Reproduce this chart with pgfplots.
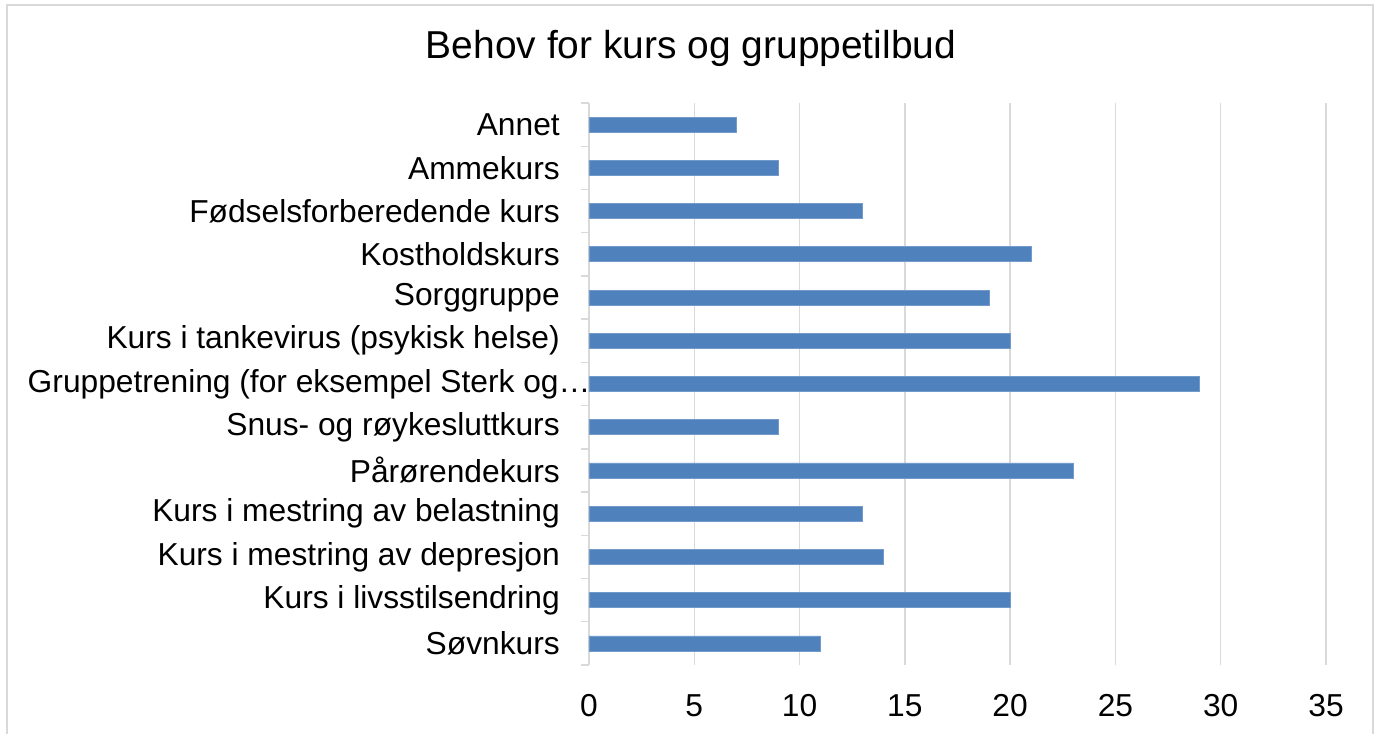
\documentclass[border=0pt]{standalone}
\usepackage{pgfplots}
\pgfplotsset{compat=1.18}
\usepackage{fontspec}
\setmainfont{Liberation Sans}
\definecolor{barblue}{HTML}{4F81BD}
\definecolor{gridgray}{HTML}{D9D9D9}
\begin{document}
\begin{tikzpicture}
\path[use as bounding box] (0pt,0pt) rectangle (1034.25pt,549.75pt);
\draw[gridgray, line width=1.2pt] (5.25pt,-5pt) -- (5.25pt,546pt) -- (1029.75pt,546pt) -- (1029.75pt,-5pt);
\node[font=\fontsize{29.2}{34}\selectfont] at (518.25pt,513.75pt) {Behov for kurs og gruppetilbud};
\begin{axis}[
  at={(441.75pt,51pt)}, anchor=south west, scale only axis,
  width=552.75pt, height=421.5pt,
  xbar, bar width=11.25pt,
  xmin=0, xmax=35, ymin=-0.5, ymax=12.5,
  xtick={0,5,...,35},
  ytick={0,...,12},
  minor ytick={-0.5,0.5,...,12.5},
  yticklabels={Søvnkurs, Kurs i livsstilsendring, Kurs i mestring av depresjon, Kurs i mestring av belastning, Pårørendekurs, Snus- og røykesluttkurs, {Gruppetrening (for eksempel Sterk og…\kern-23pt}, Kurs i tankevirus (psykisk helse), Sorggruppe, Kostholdskurs, Fødselsforberedende kurs, Ammekurs, Annet},
  axis line style={draw=none},
  tick pos=left,
  tick align=outside,
  major tick length=0pt,
  minor tick length=6pt,
  minor tick style={gridgray, line width=1pt},
  xmajorgrids,
  grid style={gridgray, line width=1pt},
  ticklabel style={font=\fontsize{23.8}{28}\selectfont},
  /pgf/number format/assume math mode=true,
  yticklabel style={anchor=east, inner sep=0pt, xshift=-21.75pt},
  xticklabel style={anchor=north, inner sep=0pt, yshift=-21.75pt},
]
\addplot[fill=barblue, draw=barblue!80!white, line width=0.5pt] coordinates {
(11,0) (20,1) (14,2) (13,3) (23,4) (9,5) (29,6) (20,7) (19,8) (21,9) (13,10) (9,11) (7,12)
};
\end{axis}
\end{tikzpicture}
\end{document}
